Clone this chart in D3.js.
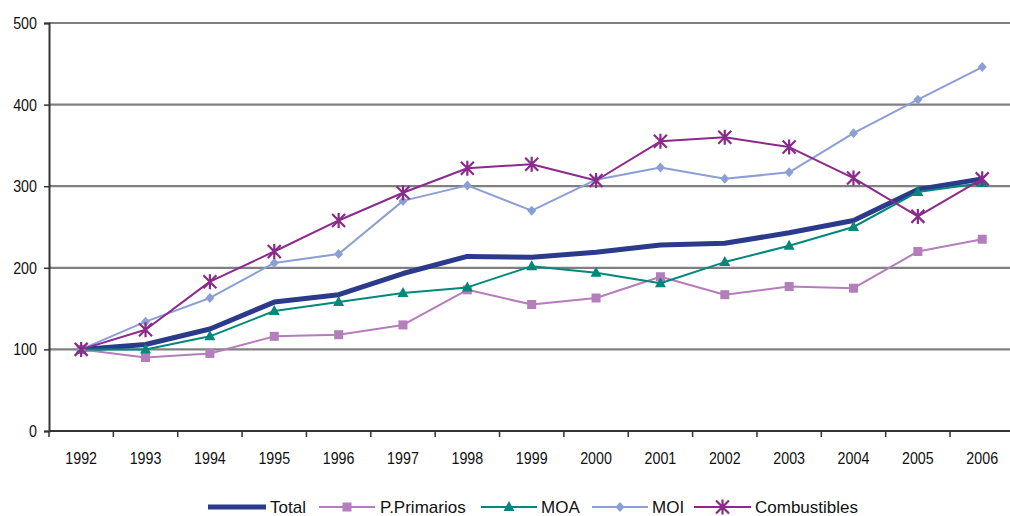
<!DOCTYPE html>
<html><head><meta charset="utf-8">
<script src="https://cdn.jsdelivr.net/npm/d3@7"></script>
<style>body{margin:0;background:#fff}svg{display:block}</style>
</head><body>
<svg id="c" width="1010" height="516"></svg>
<script>
const years = ["1992","1993","1994","1995","1996","1997","1998","1999","2000","2001","2002","2003","2004","2005","2006"];
const yTicks = [0,100,200,300,400,500];
const total = [100,106,125,158,167,193,214,213,219,228,230,243,258,296,309];
const pPrimarios = [100,90,95,116,118,130,173,155,163,189,167,177,175,220,235];
const moa = [100,100,116,147,158,169,176,202,194,181,207,227,250,293,304];
const moi = [100,134,163,206,217,282,301,270,308,323,309,317,365,406,446];
const combustibles = [100,124,183,220,258,292,322,327,307,355,360,348,310,263,309];

const series = [
  {name:"Total", values: total, color:"#2b3a8a", width:5, marker:null},
  {name:"P.Primarios", values: pPrimarios, color:"#b47dbb", width:2, marker:"square"},
  {name:"MOA", values: moa, color:"#00897b", width:2, marker:"triangle"},
  {name:"MOI", values: moi, color:"#8b9fd5", width:2, marker:"diamond"},
  {name:"Combustibles", values: combustibles, color:"#8b2a8b", width:2, marker:"star"}
];

const svg = d3.select("#c");
const L = 49, T = 23, B = 431, R = 49 + 15*64.36;
const x = d3.scaleBand().domain(years).range([L, R]).paddingInner(0).paddingOuter(0);
const y = d3.scaleLinear().domain([0,500]).range([B, T]);
const cx = d => x(d) + x.bandwidth()/2;

// gridlines
svg.append("g").selectAll("line").data(yTicks.filter(t=>t>0)).join("line")
  .attr("x1", L).attr("x2", 1010).attr("y1", d=>y(d)).attr("y2", d=>y(d))
  .attr("stroke", "#808080").attr("stroke-width", 2.2);

const tickFont = "'Liberation Sans',Arial,sans-serif";
function condense(sel) {
  sel.each(function() {
    const t = d3.select(this);
    const tx = +t.attr("x") || 0, ty = +t.attr("y") || 0;
    t.attr("x", 0).attr("y", 0).attr("transform", `translate(${tx},${ty}) scale(0.84,1)`);
  });
}

const yAxis = svg.append("g").attr("transform", `translate(${L},0)`)
  .call(d3.axisLeft(y).tickValues(yTicks).tickSize(5).tickPadding(7));
yAxis.select(".domain").attr("stroke", "#333").attr("stroke-width", 2);
yAxis.selectAll(".tick line").attr("stroke", "#333").attr("stroke-width", 1.5);
yAxis.selectAll("text").attr("font-family", tickFont).attr("font-size", 17).attr("fill", "#111").call(condense);

const xAxis = svg.append("g").attr("transform", `translate(0,${B})`)
  .call(d3.axisBottom(x).tickSize(0).tickPadding(21));
xAxis.select(".domain").remove();
xAxis.selectAll("text").attr("font-family", tickFont).attr("font-size", 17).attr("fill", "#111").call(condense);
svg.append("line").attr("x1", L).attr("x2", 1010).attr("y1", B).attr("y2", B)
  .attr("stroke", "#333").attr("stroke-width", 2);
svg.append("g").selectAll("line").data(years).join("line")
  .attr("x1", d=>x(d)).attr("x2", d=>x(d)).attr("y1", B).attr("y2", B+6)
  .attr("stroke", "#333").attr("stroke-width", 1.5);

function drawMarker(g, type, px, py, color) {
  if (type === "square") {
    g.append("rect").attr("x", px-4.5).attr("y", py-4.5).attr("width", 9).attr("height", 9).attr("fill", color);
  } else if (type === "triangle") {
    g.append("path").attr("d", `M${px},${py-6}L${px+5.5},${py+4}L${px-5.5},${py+4}Z`).attr("fill", color);
  } else if (type === "diamond") {
    g.append("path").attr("d", `M${px},${py-5}L${px+4.5},${py}L${px},${py+5}L${px-4.5},${py}Z`).attr("fill", color);
  } else if (type === "star") {
    const s = 6.5;
    g.append("path").attr("d", `M${px-s},${py-s}L${px+s},${py+s}M${px-s},${py+s}L${px+s},${py-s}M${px},${py-s-1}L${px},${py+s+1}`)
      .attr("stroke", color).attr("stroke-width", 2.2).attr("fill", "none");
  }
}

const line = d3.line().x((d,i)=>cx(years[i])).y(d=>y(d));
series.forEach(s => {
  const g = svg.append("g");
  g.append("path").attr("d", line(s.values)).attr("fill","none")
    .attr("stroke", s.color).attr("stroke-width", s.width).attr("stroke-linejoin","round");
  if (s.marker) s.values.forEach((v,i)=>drawMarker(g, s.marker, cx(years[i]), y(v), s.color));
});

// legend
const legendItems = [
  {x0:208, x1:266, tx:270},
  {x0:319, x1:375, tx:380},
  {x0:481, x1:537, tx:541},
  {x0:592, x1:648, tx:652},
  {x0:694, x1:751, tx:755}
];
const ly = 507;
series.forEach((s,i) => {
  const it = legendItems[i];
  const g = svg.append("g");
  g.append("line").attr("x1", it.x0).attr("x2", it.x1).attr("y1", ly).attr("y2", ly)
    .attr("stroke", s.color).attr("stroke-width", s.width);
  if (s.marker) drawMarker(g, s.marker, (it.x0+it.x1)/2, ly, s.color);
  g.append("text").attr("x", it.tx).attr("y", 513).text(s.name)
    .attr("font-family","'Liberation Sans',Arial,sans-serif").attr("font-size", 17).attr("fill","#111");
});
</script>
</body></html>
